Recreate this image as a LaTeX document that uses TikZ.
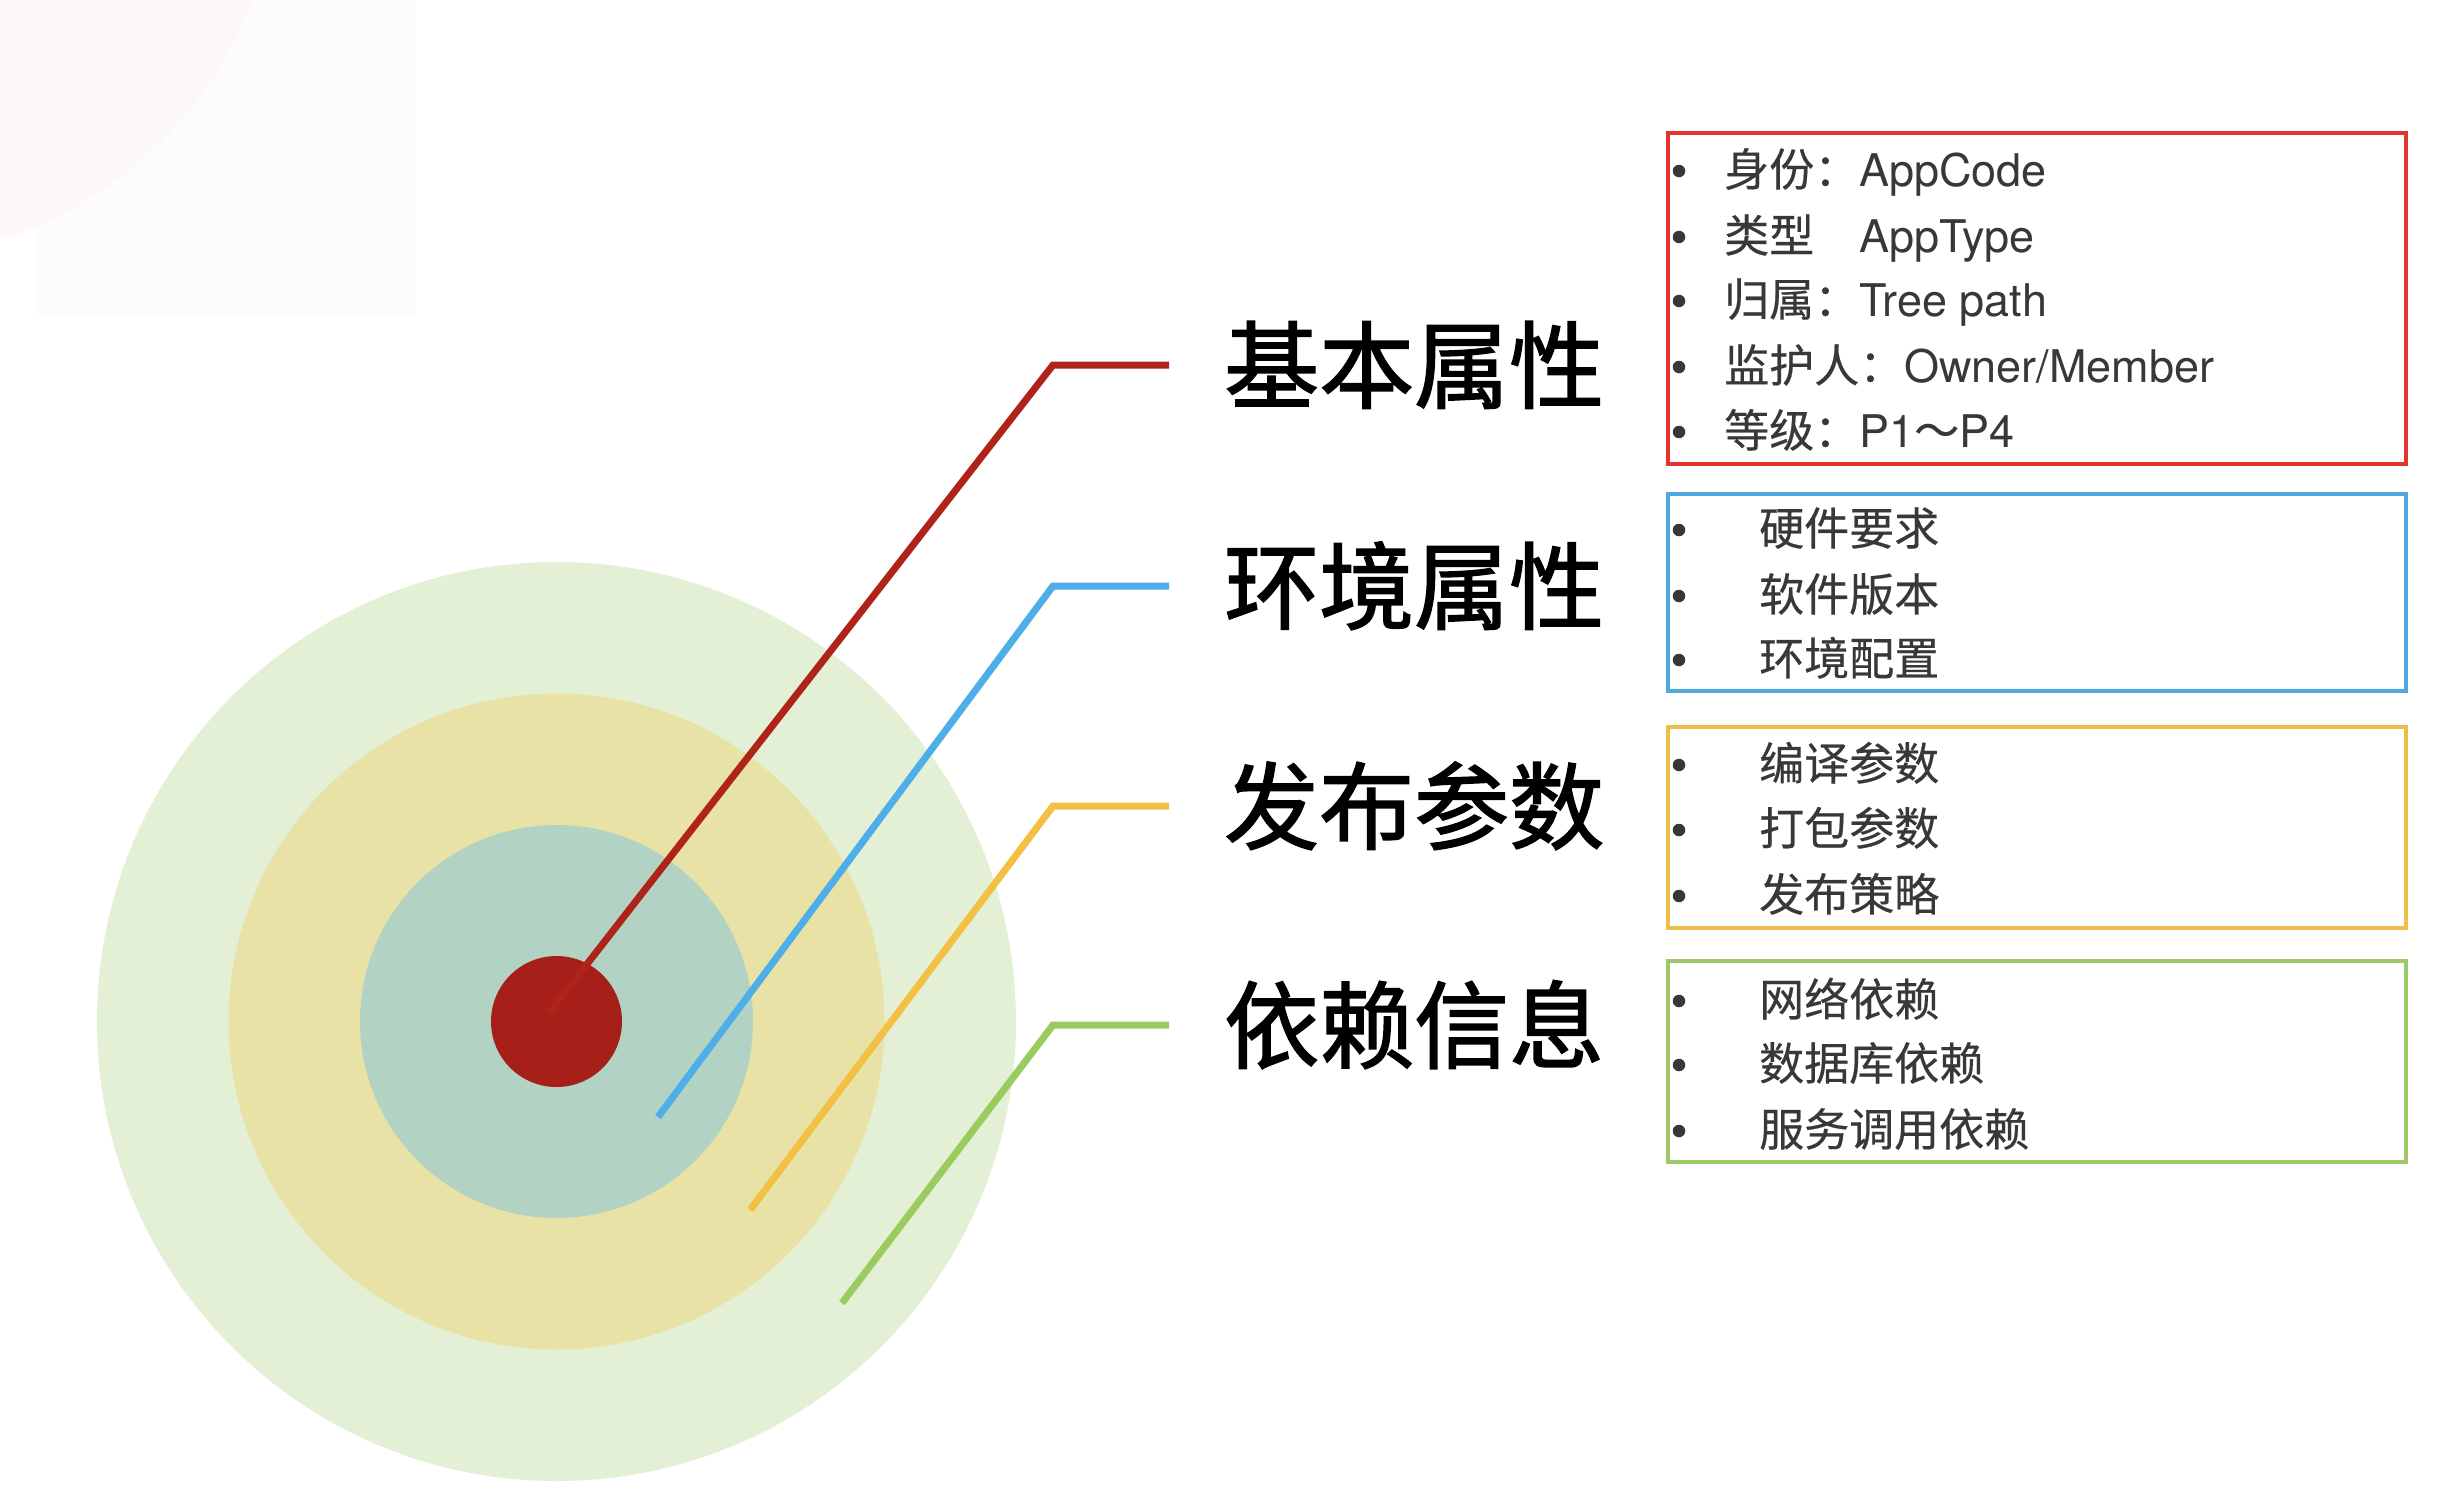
\documentclass[tikz,border=0pt]{standalone}
\usepackage{fontspec}
\setmainfont{TeX Gyre Heros}
\newfontfamily\cjk[FakeBold=0.4]{Noto Sans CJK SC}
\newfontfamily\cjkbig[FakeBold=1.6]{Noto Sans CJK SC}
\definecolor{ringA}{HTML}{E3F0D5}
\definecolor{ringB}{HTML}{E9E2A6}
\definecolor{ringC}{HTML}{B2D3C3}
\definecolor{dotred}{HTML}{A62019}
\definecolor{lnred}{HTML}{B0231B}
\definecolor{lnblue}{HTML}{4EAEE8}
\definecolor{lnorange}{HTML}{F4C043}
\definecolor{lngreen}{HTML}{9ACB5E}
\definecolor{bxred}{HTML}{E2342B}
\definecolor{bxblue}{HTML}{4FA9E0}
\definecolor{bxorange}{HTML}{EEBE47}
\definecolor{bxgreen}{HTML}{9DC968}
\definecolor{itemgray}{HTML}{383838}
\definecolor{bgpink}{HTML}{FDF7FA}
\definecolor{bgwhite}{HTML}{FCFCFE}
\tikzset{
  ring/.style={circle, inner sep=0pt, draw=none},
  leader/.style={line width=7pt, line cap=butt, line join=miter},
  catbox/.style={line width=4.5pt, line join=miter},
  biglabel/.style={anchor=base west, inner sep=0pt, font=\cjkbig\fontsize{95}{95}\selectfont, text=black},
  itemtext/.style={anchor=base west, inner sep=0pt, font=\fontsize{45}{45}\selectfont, text=itemgray},
  bul/.style={circle, fill=itemgray, inner sep=0pt, minimum size=12.5pt},
}
\begin{document}
\begin{tikzpicture}[x=1pt,y=-1pt]
\useasboundingbox (0,0) rectangle (2458,1502);
\fill[white] (0,0) rectangle (2458,1502);
% faint background decoration
\fill[bgwhite] (35,0) rectangle (415,315);
\fill[bgpink] (-120,-140) circle (398);

% target circles
\node[ring, fill=ringA, minimum size=919pt] (outer) at (556.5,1021.5) {};
\node[ring, fill=ringB, minimum size=656pt] (middle) at (556.5,1021.5) {};
\node[ring, fill=ringC, minimum size=393pt] (inner) at (556.5,1021.5) {};
\node[ring, fill=dotred, minimum size=131pt] (dot) at (556.5,1021.5) {};

% leader coordinates
\coordinate (ra) at (549,1013);  \coordinate (rb) at (1053,365);  \coordinate (rc) at (1169,365);
\coordinate (ba) at (658,1117);  \coordinate (bb) at (1053,586);  \coordinate (bc) at (1169,586);
\coordinate (oa) at (750,1210);  \coordinate (ob) at (1053,806);  \coordinate (oc) at (1169,806);
\coordinate (ga) at (842,1303);  \coordinate (gb) at (1053,1025); \coordinate (gc) at (1169,1025);

\draw[leader, lnred] (ra) -- (rb) -- (rc);
\draw[leader, lnblue] (ba) -- (bb) -- (bc);
\draw[leader, lnorange] (oa) -- (ob) -- (oc);
\draw[leader, lngreen] (ga) -- (gb) -- (gc);

% category labels
\node[biglabel] (l1) at (1224,365+36) {基本属性};
\node[biglabel] (l2) at (1224,586+36) {环境属性};
\node[biglabel] (l3) at (1224,806+36) {发布参数};
\node[biglabel] (l4) at (1224,1025+36) {依赖信息};

% boxes
\draw[catbox, bxred] (1668,133) rectangle (2406,464);
\draw[catbox, bxblue] (1668,494) rectangle (2406,691);
\draw[catbox, bxorange] (1668,727) rectangle (2406,928);
\draw[catbox, bxgreen] (1668,961) rectangle (2406,1162);

% red box items
\foreach \yy in {169,235,299,365,430} {\node[bul] at (1679,\yy+2) {};}
\node[itemtext] (r1) at (1724,169+17) {{\cjk 身份：}AppCode};
\node[itemtext] (r2) at (1724,235+17) {{\cjk 类型　}AppType};
\node[itemtext] (r3) at (1724,299+17) {{\cjk 归属：}Tree path};
\node[itemtext] (r4) at (1724,365+17) {{\cjk 监护人：}Owner/Member};
\node[itemtext] (r5) at (1724,430+17) {{\cjk 等级：}P1{\cjk ～}P4};

% blue box items
\foreach \yy in {528,594,658} {\node[bul] at (1679,\yy+2) {};}
\node[itemtext] (b1) at (1759,528+17) {\cjk 硬件要求};
\node[itemtext] (b2) at (1759,594+17) {\cjk 软件版本};
\node[itemtext] (b3) at (1759,658+17) {\cjk 环境配置};

% orange box items
\foreach \yy in {763,828,894} {\node[bul] at (1679,\yy+2) {};}
\node[itemtext] (o1) at (1759,763+17) {\cjk 编译参数};
\node[itemtext] (o2) at (1759,828+17) {\cjk 打包参数};
\node[itemtext] (o3) at (1759,894+17) {\cjk 发布策略};

% green box items
\foreach \yy in {999,1063,1129} {\node[bul] at (1679,\yy+2) {};}
\node[itemtext] (g1) at (1759,999+17) {\cjk 网络依赖};
\node[itemtext] (g2) at (1759,1063+17) {\cjk 数据库依赖};
\node[itemtext] (g3) at (1759,1129+17) {\cjk 服务调用依赖};
\end{tikzpicture}
\end{document}
